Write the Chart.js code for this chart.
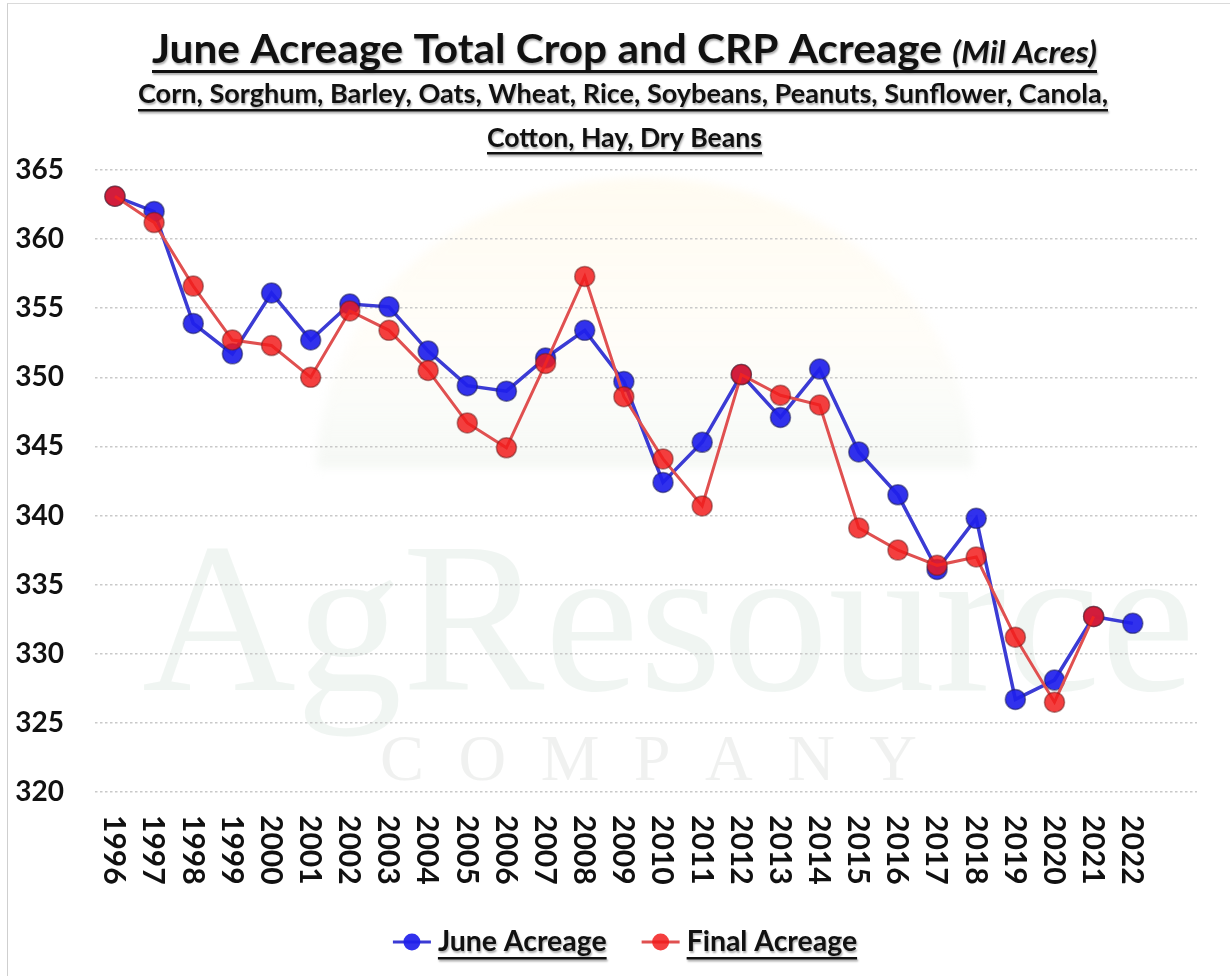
<!DOCTYPE html>
<html>
<head>
<meta charset="utf-8">
<script src="https://cdn.jsdelivr.net/npm/chart.js@4.4.1/dist/chart.umd.min.js"></script>
<style>
html, body { margin: 0; padding: 0; background: #ffffff; }
#wrap { position: relative; width: 1230px; height: 976px; overflow: hidden; }
#frame { position: absolute; left: 7px; top: 3px; width: 1240px; height: 990px;
  border-left: 1.5px solid #cfcfcf; border-top: 1.5px solid #dadada; pointer-events: none; }
canvas { display: block; }
</style>
</head>
<body>
<div id="wrap"><canvas id="c" width="1230" height="976"></canvas><div id="frame"></div></div>
<script>
// ---- data ----
const years = [1996, 1997, 1998, 1999, 2000, 2001, 2002, 2003, 2004, 2005, 2006, 2007, 2008,
  2009, 2010, 2011, 2012, 2013, 2014, 2015, 2016, 2017, 2018, 2019, 2020, 2021, 2022];
const juneAcreage = [363.1, 362.0, 353.9, 351.7, 356.1, 352.7, 355.3, 355.1, 351.9, 349.4, 349.0, 351.4, 353.4,
  349.7, 342.4, 345.3, 350.2, 347.1, 350.6, 344.6, 341.5, 336.1, 339.8, 326.7, 328.1, 332.7, 332.2];
const finalAcreage = [363.1, 361.2, 356.6, 352.7, 352.3, 350.0, 354.8, 353.4, 350.5, 346.7, 344.9, 351.0, 357.3,
  348.6, 344.1, 340.7, 350.2, 348.7, 348.0, 339.1, 337.5, 336.4, 337.0, 331.2, 326.5, 332.7, null];
const yTickValues = [320, 325, 330, 335, 340, 345, 350, 355, 360, 365];
const seriesNames = ['June Acreage', 'Final Acreage'];
const titleText = 'June Acreage Total Crop and CRP Acreage';
const titleUnit = '(Mil Acres)';
const subtitleLines = ['Corn, Sorghum, Barley, Oats, Wheat, Rice, Soybeans, Peanuts, Sunflower, Canola,',
  'Cotton, Hay, Dry Beans'];
const watermarkWords = ['AgResource', 'COMPANY'];

// ---- styling helpers ----
const FONT = 'Lato, "Open Sans", sans-serif';
const INK = '#111111';

function setShadow(ctx) {
  ctx.shadowColor = 'rgba(0,0,0,0.32)';
  ctx.shadowOffsetX = 1;
  ctx.shadowOffsetY = 2;
  ctx.shadowBlur = 2;
}

// draws a run of text segments, fitted to a target width, centred on cx, underlined
function drawFittedLine(ctx, segments, cx, baseline, targetW, underlineY, underlineH) {
  let natural = 0;
  const widths = segments.map(s => { ctx.font = s.font; const w = ctx.measureText(s.text).width; natural += w + (s.gapAfter || 0); return w; });
  const k = targetW / natural;
  ctx.save();
  ctx.translate(cx - targetW / 2, baseline);
  ctx.scale(k, 1);
  ctx.fillStyle = INK;
  ctx.textBaseline = 'alphabetic';
  ctx.textAlign = 'left';
  setShadow(ctx);
  let x = 0;
  segments.forEach((s, i) => { ctx.font = s.font; ctx.fillText(s.text, x, 0); x += widths[i] + (s.gapAfter || 0); });
  ctx.fillRect(0, underlineY - baseline, natural, underlineH);
  ctx.restore();
}

const backdropPlugin = {
  id: 'backdrop',
  beforeDraw(chart) {
    const ctx = chart.ctx;
    ctx.save();
    // very faint rising-sun dome with soft edge
    const g = ctx.createLinearGradient(0, 180, 0, 468);
    g.addColorStop(0, 'rgba(255,244,215,0.35)');
    g.addColorStop(0.55, 'rgba(254,248,232,0.3)');
    g.addColorStop(0.8, 'rgba(240,244,236,0.32)');
    g.addColorStop(1, 'rgba(232,238,230,0.42)');
    ctx.filter = 'blur(5px)';
    ctx.beginPath();
    ctx.ellipse(645, 468, 328, 290, 0, Math.PI, 2 * Math.PI);
    ctx.closePath();
    ctx.fillStyle = g;
    ctx.fill();
    ctx.filter = 'none';
    // AgResource watermark
    ctx.font = '215px "Liberation Serif", "DejaVu Serif", serif';
    ctx.textBaseline = 'alphabetic';
    const w1 = ctx.measureText(watermarkWords[0]).width;
    ctx.save();
    ctx.translate(142, 690);
    ctx.scale(1053 / w1, 1);
    ctx.fillStyle = 'rgba(228,237,232,0.55)';
    ctx.fillText(watermarkWords[0], 0, 0);
    ctx.restore();
    // COMPANY, letter-spaced
    ctx.font = '66px "Liberation Serif", "DejaVu Serif", serif';
    const letters = watermarkWords[1].split('');
    const lw = letters.map(c => ctx.measureText(c).width);
    const sum = lw.reduce((a, b) => a + b, 0);
    const spacing = (917 - 380 - sum) / (letters.length - 1);
    let x = 380;
    ctx.fillStyle = 'rgba(232,234,232,0.65)';
    letters.forEach((c, i) => { ctx.fillText(c, x, 780); x += lw[i] + spacing; });
    ctx.restore();
  }
};

const textPlugin = {
  id: 'texts',
  afterDraw(chart) {
    const ctx = chart.ctx;
    // titles
    drawFittedLine(ctx, [
      { text: titleText, font: 'bold 40px ' + FONT, gapAfter: 10 },
      { text: titleUnit, font: 'italic bold 31px ' + FONT }
    ], 624.5, 63, 945, 70, 3);
    drawFittedLine(ctx, [{ text: subtitleLines[0], font: 'bold 27px ' + FONT }], 623, 103, 970, 109, 2.5);
    drawFittedLine(ctx, [{ text: subtitleLines[1], font: 'bold 27px ' + FONT }], 624.5, 147, 275, 152, 2.5);

    // x-axis year labels, rotated 90° clockwise
    const xs = chart.scales.x;
    ctx.save();
    ctx.fillStyle = INK;
    ctx.font = 'bold 30px ' + FONT;
    ctx.textAlign = 'left';
    ctx.textBaseline = 'middle';
    years.forEach(yr => {
      const px = xs.getPixelForValue(yr);
      ctx.save();
      ctx.translate(px, 815);
      ctx.rotate(Math.PI / 2);
      ctx.fillText(String(yr), 0, 1);
      ctx.restore();
    });
    ctx.restore();

    // legend
    ctx.save();
    const ds = chart.data.datasets;
    ctx.font = 'bold 29px ' + FONT;
    const k = 0.98;
    const tw = ds.map(d => ctx.measureText(d.label).width * k);
    const markW = 38, gap = 7, itemGap = 35;
    const total = tw.reduce((a, w) => a + markW + gap + w, 0) + itemGap * (ds.length - 1);
    let x = 625 - total / 2;
    const y = 942;
    ds.forEach((d, i) => {
      ctx.strokeStyle = d.borderColor;
      ctx.lineWidth = 3;
      ctx.beginPath(); ctx.moveTo(x, y); ctx.lineTo(x + markW, y); ctx.stroke();
      ctx.beginPath(); ctx.arc(x + markW / 2, y, 8.5, 0, Math.PI * 2);
      ctx.fillStyle = d.pointBackgroundColor; ctx.fill();
      const tx = x + markW + gap;
      ctx.save();
      ctx.translate(tx, y);
      ctx.scale(k, 1);
      ctx.fillStyle = INK;
      ctx.textBaseline = 'middle';
      setShadow(ctx);
      ctx.fillText(d.label, 0, 0);
      ctx.fillRect(0, 15, tw[i] / k, 2.5);
      ctx.restore();
      x = tx + tw[i] + itemGap;
    });
    ctx.restore();
  }
};

const toPoints = arr => years.map((yr, i) => ({ x: yr, y: arr[i] }));

new Chart(document.getElementById('c'), {
  type: 'line',
  data: {
    datasets: [
      {
        label: seriesNames[0],
        data: toPoints(juneAcreage),
        borderColor: '#3b3bd4',
        borderWidth: 3.5,
        pointBackgroundColor: 'rgba(32,32,236,0.92)',
        pointBorderColor: 'rgba(30,30,90,0.55)',
        pointBorderWidth: 1.5,
        pointRadius: 10,
        tension: 0,
        order: 2
      },
      {
        label: seriesNames[1],
        data: toPoints(finalAcreage),
        borderColor: '#e05050',
        borderWidth: 3,
        pointBackgroundColor: 'rgba(242,26,26,0.84)',
        pointBorderColor: 'rgba(110,30,30,0.5)',
        pointBorderWidth: 1.5,
        pointRadius: 10,
        tension: 0,
        order: 1
      }
    ]
  },
  options: {
    responsive: false,
    animation: false,
    devicePixelRatio: 1,
    layout: { padding: { left: 7, right: 33, top: 170, bottom: 0 } },
    plugins: { legend: { display: false }, tooltip: { enabled: false }, title: { display: false } },
    scales: {
      x: {
        type: 'linear',
        min: 1995.49,
        max: 2023.64,
        grid: { display: false },
        border: { display: false },
        ticks: { display: false },
        afterFit(s) { s.height = 184; }
      },
      y: {
        min: 320,
        max: 365,
        afterBuildTicks(s) { s.ticks = yTickValues.map(v => ({ value: v })); },
        ticks: { color: INK, font: { family: FONT, weight: 'bold', size: 28 }, padding: 31 },
        grid: { color: '#c9c9c9', lineWidth: 1.6, drawTicks: false },
        border: { display: false, dash: [2.5, 2.5] },
        afterFit(s) { s.width = 88; }
      }
    }
  },
  plugins: [backdropPlugin, textPlugin]
});
</script>
</body>
</html>
